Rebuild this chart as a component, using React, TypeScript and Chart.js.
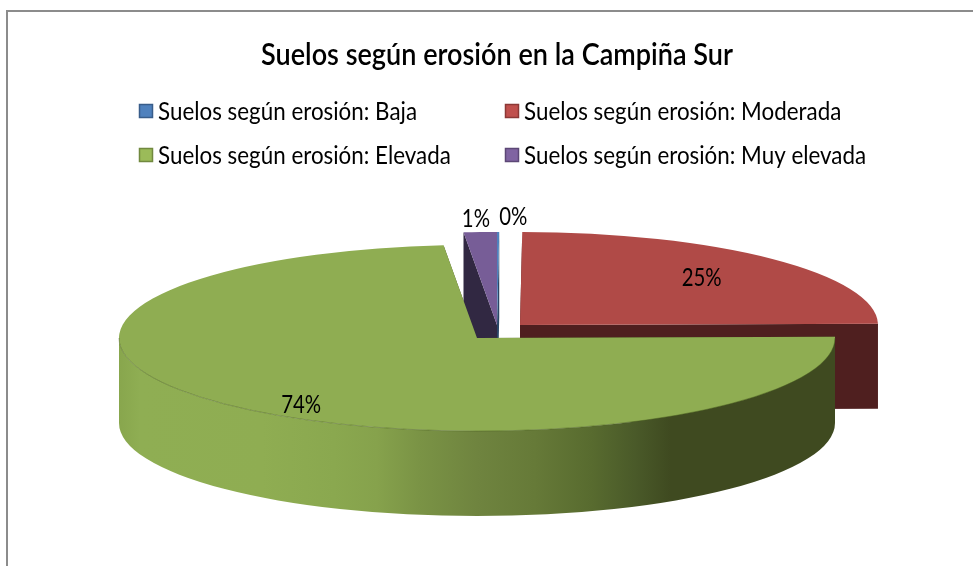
import React, { useEffect, useRef } from "react";
import { Chart, registerables, PieController, ArcElement } from "chart.js";

Chart.register(...registerables);

// ---- data ----
const categories = [
  "Suelos según erosión: Baja",
  "Suelos según erosión: Moderada",
  "Suelos según erosión: Elevada",
  "Suelos según erosión: Muy elevada",
];
const shares = [0.1, 24.7, 73.7, 1.49];
const chartTitle = "Suelos según erosión en la Campiña Sur";

// ---- style ----
const faceColors = ["#4f81bd", "#b04a47", "#8fad52", "#775d97"];
const wallColors = ["#2a4566", "#4f1f1f", "#3f4a20", "#312842"];
const legendFill = ["#4f81bd", "#c0504d", "#9bbb59", "#8064a2"];
const legendEdge = ["#385d8a", "#8c3836", "#71893f", "#5c4776"];
const FONT = "Lato, 'Liberation Sans', sans-serif";
const W = 973;
const H = 566;
const RADIUS = 358;
const SQUASH = 0.26;
const DEPTH = 85;
const TITLE_WIDTH = 472; // condensed width of the title text
const TITLE_CENTER = 497;
const LEGEND_TEXT_WIDTH = 259; // condensed width of the first legend entry
const PCT_SQUEEZE = 0.91;
const sliceShift = [
  [20, -13],
  [43, -13],
  [0, 0],
  [20, -13],
];
// label placement: fraction of the radius along the bisector, then a small nudge
const labelPlace = [
  { f: 1.16, nx: 15, ny: 0 },
  { f: 0.72, nx: 0, ny: 0 },
  { f: 0.86, nx: 30, ny: 7 },
  { f: 1.14, nx: -2, ny: 0 },
];
const wallStops: [number, string][] = [
  [0, "#88a64d"],
  [0.03, "#8fae53"],
  [0.2, "#8fad52"],
  [0.3, "#8aa84f"],
  [0.36, "#86a24c"],
  [0.42, "#7a9345"],
  [0.5, "#6f843f"],
  [0.58, "#667a38"],
  [0.66, "#586b2f"],
  [0.72, "#4a5a29"],
  [0.77, "#3f4a20"],
  [1, "#3f4a20"],
];

class Arc3D extends ArcElement {
  static id = "arc3d";

  drawSide(ctx: CanvasRenderingContext2D, i: number) {
    const { x, y, startAngle, endAngle, outerRadius: r } = this as any;
    const [dx, dy] = sliceShift[i];
    const px = (a: number) => x + dx + Math.cos(a) * r;
    const py = (a: number) => y + dy + Math.sin(a) * r * SQUASH;
    const ax = x + dx;
    const ay = y + dy;
    ctx.save();
    ctx.fillStyle = wallColors[i];
    for (const a of [startAngle, endAngle]) {
      ctx.beginPath();
      ctx.moveTo(ax, ay);
      ctx.lineTo(px(a), py(a));
      ctx.lineTo(px(a), py(a) + DEPTH);
      ctx.lineTo(ax, ay + DEPTH);
      ctx.closePath();
      ctx.fill();
    }
    const span = this.frontSpan();
    if (span) {
      const grad = ctx.createLinearGradient(ax - r, 0, ax + r, 0);
      for (const [s, c] of wallStops) grad.addColorStop(s, c);
      ctx.fillStyle = i === 2 ? grad : wallColors[i];
      ctx.beginPath();
      ctx.ellipse(ax, ay, r, r * SQUASH, 0, span[0], span[1]);
      ctx.ellipse(ax, ay + DEPTH, r, r * SQUASH, 0, span[1], span[0], true);
      ctx.closePath();
      ctx.fill();
    }
    ctx.restore();
  }

  // the part of the rim that faces the viewer (canvas angles 0..PI)
  frontSpan(): [number, number] | null {
    const { startAngle, endAngle } = this as any;
    const TAU = Math.PI * 2;
    const k = Math.ceil((startAngle - Math.PI) / TAU);
    const from = Math.max(startAngle, k * TAU);
    const to = Math.min(endAngle, k * TAU + Math.PI);
    return to > from ? [from, to] : null;
  }

  drawRimLine(ctx: CanvasRenderingContext2D, i: number) {
    const span = this.frontSpan();
    if (!span) return;
    const { x, y, outerRadius: r } = this as any;
    const [dx, dy] = sliceShift[i];
    ctx.save();
    ctx.strokeStyle = "rgba(70,90,30,0.45)";
    ctx.lineWidth = 1;
    ctx.beginPath();
    ctx.ellipse(x + dx, y + dy, r, r * SQUASH, 0, span[0], span[1]);
    ctx.stroke();
    ctx.restore();
  }

  draw(ctx: CanvasRenderingContext2D) {
    ctx.save();
    const i = (this as any).$index as number;
    const [dx, dy] = sliceShift[i];
    const { x, y } = this as any;
    ctx.translate(x + dx, y + dy);
    ctx.scale(1, SQUASH);
    ctx.translate(-x, -y);
    super.draw(ctx);
    ctx.restore();
  }
}

class Pie3DController extends PieController {
  static id = "pie3d";
  static defaults = { dataElementType: "arc3d" };

  draw() {
    const ctx = this.chart.ctx;
    const arcs = (this as any)._cachedMeta.data as Arc3D[];
    arcs.forEach((arc, i) => {
      (arc as any).$index = i;
      arc.drawSide(ctx, i);
    });
    super.draw();
    arcs.forEach((arc, i) => arc.drawRimLine(ctx, i));
  }
}

Chart.register(Arc3D as any, Pie3DController as any);

// horizontally condensed text, the installed fonts being wider than the original
function condensedText(
  ctx: CanvasRenderingContext2D,
  text: string,
  x: number,
  y: number,
  sx: number,
  align: "left" | "center"
) {
  ctx.save();
  ctx.translate(x, y);
  ctx.scale(sx, 1);
  ctx.textAlign = align;
  ctx.fillText(text, 0, 0);
  ctx.restore();
}

const framePlugin = {
  id: "frame",
  beforeDraw(chart: any) {
    const { ctx } = chart;
    ctx.save();
    ctx.fillStyle = "#ffffff";
    ctx.fillRect(0, 0, W, H);
    ctx.strokeStyle = "#8c8c8c";
    ctx.lineWidth = 2;
    ctx.beginPath();
    ctx.moveTo(7, H);
    ctx.lineTo(7, 11);
    ctx.lineTo(W, 11);
    ctx.stroke();
    ctx.restore();

    // native title block, moved onto its place and condensed to its width
    const block = chart.titleBlock;
    if (block && !block.$wrapped) {
      block.$wrapped = true;
      const original = block.draw.bind(block);
      block.draw = () => {
        const c = chart.ctx;
        const cx = (block.left + block.right) / 2;
        c.save();
        c.font = `${block.options.font.weight} ${block.options.font.size}px ${FONT}`;
        const sx = TITLE_WIDTH / c.measureText(block.options.text).width;
        c.translate(TITLE_CENTER, 0);
        c.scale(sx, 1);
        c.translate(-cx, 0);
        original();
        c.restore();
      };
    }
  },
};

function legendScale(ctx: CanvasRenderingContext2D, chart: any) {
  return LEGEND_TEXT_WIDTH / ctx.measureText(chart.data.labels[0]).width;
}

const legendPlugin = {
  id: "gridLegend",
  afterDraw(chart: any) {
    const { ctx } = chart;
    const colX = [139, 505];
    const rowY = [111, 155];
    ctx.save();
    ctx.font = `25px ${FONT}`;
    ctx.textBaseline = "middle";
    const sx = legendScale(ctx, chart);
    chart.data.labels.forEach((label: string, i: number) => {
      const x = colX[i % 2];
      const y = rowY[Math.floor(i / 2)];
      ctx.fillStyle = legendFill[i];
      ctx.strokeStyle = legendEdge[i];
      ctx.lineWidth = 1.5;
      ctx.fillRect(x + 0.5, y - 6.5, 13, 13);
      ctx.strokeRect(x + 0.5, y - 6.5, 13, 13);
      ctx.fillStyle = "#000000";
      condensedText(ctx, label, x + 19, y + 1, sx, "left");
    });
    ctx.restore();
  },
};

const pctPlugin = {
  id: "pctLabels",
  afterDatasetsDraw(chart: any) {
    const { ctx } = chart;
    const meta = chart.getDatasetMeta(0);
    const values = chart.data.datasets[0].data as number[];
    const total = values.reduce((a, b) => a + b, 0);
    ctx.save();
    ctx.font = `25px ${FONT}`;
    ctx.fillStyle = "#000000";
    ctx.textBaseline = "middle";
    const sx = legendScale(ctx, chart) * PCT_SQUEEZE;
    meta.data.forEach((arc: any, i: number) => {
      const mid = (arc.startAngle + arc.endAngle) / 2;
      const [dx, dy] = sliceShift[i];
      const p = labelPlace[i];
      const lx = arc.x + dx + Math.cos(mid) * arc.outerRadius * p.f + p.nx;
      const ly = arc.y + dy + Math.sin(mid) * arc.outerRadius * p.f * SQUASH + p.ny;
      condensedText(ctx, `${Math.round((values[i] / total) * 100)}%`, lx, ly, sx, "center");
    });
    ctx.restore();
  },
};

export default function App() {
  const ref = useRef<HTMLCanvasElement>(null);
  useEffect(() => {
    const chart = new Chart(ref.current as HTMLCanvasElement, {
      type: "pie3d" as any,
      data: {
        labels: categories,
        datasets: [
          {
            data: shares,
            backgroundColor: faceColors,
            borderWidth: 0,
            radius: RADIUS,
            cutout: 0,
          } as any,
        ],
      },
      options: {
        responsive: false,
        animation: false,
        // the padding centres the pie on x=477, and the title's padding on y=338
        layout: { padding: { left: 0, right: 19, top: 0, bottom: 0 } },
        plugins: {
          legend: { display: false },
          tooltip: { enabled: false },
          title: {
            display: true,
            text: chartTitle,
            color: "#000000",
            font: { family: FONT, size: 31, weight: "600" },
            padding: { top: 36, bottom: 36.8 },
          },
        },
      } as any,
      plugins: [framePlugin, legendPlugin, pctPlugin],
    });
    return () => chart.destroy();
  }, []);
  return (
    <canvas
      ref={ref}
      width={W}
      height={H}
      style={{ position: "absolute", left: 0, top: 0, display: "block" }}
    />
  );
}
